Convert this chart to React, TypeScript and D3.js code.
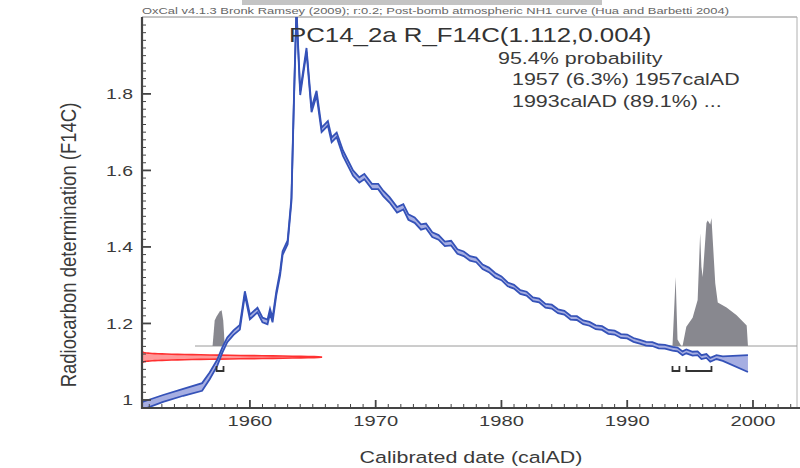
import React from 'react';
import * as d3 from 'd3';

// ---- data ----
const curveYears = [1951.4, 1953.1, 1954.7, 1956.2, 1956.8, 1957.4, 1957.8, 1958.2, 1958.7, 1959.2, 1959.6, 1960.0, 1960.6, 1961.0, 1961.4, 1961.6, 1961.8, 1962.1, 1962.4, 1962.6, 1963.0, 1963.3, 1963.5, 1963.7, 1964.0, 1964.5, 1964.9, 1965.3, 1965.7, 1966.2, 1966.5, 1966.9, 1967.4, 1967.8, 1968.2, 1968.7, 1969.1, 1969.7, 1970.2, 1970.6, 1971.1, 1971.7, 1972.2, 1972.6, 1973.1, 1973.6, 1974.0, 1974.5, 1975.0, 1975.5, 1976.0, 1976.5, 1977.0, 1977.5, 1978.0, 1978.5, 1979.0, 1979.5, 1980.0, 1980.5, 1981.0, 1981.5, 1982.0, 1982.5, 1983.0, 1983.5, 1984.0, 1984.5, 1985.0, 1985.5, 1986.0, 1986.5, 1987.0, 1987.5, 1988.0, 1988.5, 1989.0, 1989.5, 1990.0, 1990.5, 1991.0, 1991.5, 1992.0, 1992.5, 1993.0, 1993.6, 1994.0, 1994.4, 1994.7, 1995.2, 1995.6, 1995.9, 1996.3, 1996.6, 1997.1, 1997.6, 1999.6];
const curveF14C = [0.984, 1.004, 1.020, 1.034, 1.063, 1.097, 1.130, 1.157, 1.176, 1.190, 1.279, 1.217, 1.235, 1.209, 1.204, 1.232, 1.209, 1.279, 1.331, 1.384, 1.412, 1.523, 1.784, 2.02, 1.802, 1.915, 1.758, 1.802, 1.706, 1.723, 1.680, 1.693, 1.645, 1.619, 1.593, 1.575, 1.584, 1.558, 1.558, 1.540, 1.523, 1.497, 1.505, 1.478, 1.470, 1.452, 1.455, 1.432, 1.425, 1.408, 1.410, 1.388, 1.382, 1.370, 1.366, 1.348, 1.340, 1.326, 1.318, 1.302, 1.296, 1.282, 1.278, 1.263, 1.260, 1.246, 1.244, 1.232, 1.228, 1.215, 1.214, 1.203, 1.199, 1.190, 1.188, 1.178, 1.176, 1.167, 1.166, 1.157, 1.152, 1.147, 1.146, 1.140, 1.139, 1.134, 1.132, 1.122, 1.127, 1.121, 1.122, 1.112, 1.115, 1.105, 1.112, 1.108, 1.095];
const curveSigma = [0.010, 0.009, 0.009, 0.010, 0.009, 0.008, 0.007, 0.006, 0.006, 0.006, 0.005, 0.006, 0.006, 0.006, 0.006, 0.006, 0.006, 0.005, 0.005, 0.005, 0.005, 0.005, 0.005, 0.005, 0.005, 0.005, 0.006, 0.006, 0.006, 0.006, 0.006, 0.006, 0.007, 0.007, 0.007, 0.007, 0.007, 0.007, 0.007, 0.007, 0.007, 0.007, 0.007, 0.007, 0.007, 0.007, 0.006, 0.006, 0.006, 0.006, 0.006, 0.006, 0.006, 0.006, 0.006, 0.006, 0.006, 0.006, 0.005, 0.005, 0.005, 0.005, 0.005, 0.005, 0.005, 0.005, 0.005, 0.005, 0.005, 0.005, 0.005, 0.005, 0.005, 0.005, 0.005, 0.005, 0.005, 0.005, 0.005, 0.005, 0.005, 0.005, 0.005, 0.005, 0.005, 0.005, 0.005, 0.005, 0.005, 0.005, 0.005, 0.005, 0.005, 0.005, 0.005, 0.006, 0.022];

const measMean = 1.112;
const measSigma = 0.004;

const leftDistYears = [1957.03, 1957.2, 1957.35, 1957.6, 1957.75, 1957.88, 1958.0];
const leftDistDensity = [0, 0.20, 0.23, 0.27, 0.28, 0.20, 0];
const rightDistYears = [1993.6, 1993.85, 1994.0, 1994.3, 1994.4, 1994.7, 1995.2, 1995.6, 1995.8, 1995.9, 1996.0, 1996.3, 1996.4, 1996.6, 1996.7, 1996.8, 1997.0, 1997.2, 1997.9, 1998.7, 1999.5, 1999.6];
const rightDistDensity = [0, 0.54, 0.05, 0, 0, 0.15, 0.22, 0.36, 0.88, 0.62, 0.54, 0.96, 0.98, 0.95, 1.0, 0.83, 0.49, 0.34, 0.30, 0.24, 0.16, 0];

const rangeStarts = [1957.35, 1993.6, 1994.7];
const rangeEnds = [1957.9, 1994.15, 1996.7];

const xTickYears = [1960, 1970, 1980, 1990, 2000];
const xTickLabels = ['1960', '1970', '1980', '1990', '2000'];
const yTickValues = [1, 1.2, 1.4, 1.6, 1.8];
const yTickLabels = ['1', '1.2', '1.4', '1.6', '1.8'];

const captionText = 'OxCal v4.1.3 Bronk Ramsey (2009); r:0.2; Post-bomb atmospheric NH1 curve (Hua and Barbetti 2004)';
const titleText = 'PC14_2a R_F14C(1.112,0.004)';
const probLines = ['95.4% probability', '1957 (6.3%) 1957calAD', '1993calAD (89.1%) ...'];
const xTitle = 'Calibrated date (calAD)';
const yTitle = 'Radiocarbon determination (F14C)';

// ---- layout ----
const W = 800, H = 468;
const L = 142, R = 797, T = 17, B = 408;
const FONT = '"Liberation Sans", Arial, Helvetica, sans-serif';
const TXT = '#3a3a3a';

const x = d3.scaleLinear().domain([1951.42, 2003.5]).range([L, R]);
const y = d3.scaleLinear().domain([0.979, 2.001]).range([B, T]);

const distBase = 346;
const distScale = 128;
const measScale = 180;

function SText(props: any) {
  const { x: tx, y: ty, sx = 1.27, size = 15.5, anchor = 'start', fill = TXT, rotate = 0, children } = props;
  return (
    <text
      transform={`translate(${tx},${ty}) scale(${sx},1)${rotate ? ` rotate(${rotate})` : ''}`}
      fontSize={size}
      textAnchor={anchor}
      fill={fill}
      fontFamily={FONT}
    >
      {children}
    </text>
  );
}

export default function App() {
  const idx = d3.range(curveYears.length);
  const band = d3.area<number>()
    .x(i => x(curveYears[i]))
    .y0(i => y(curveF14C[i] - curveSigma[i]))
    .y1(i => y(curveF14C[i] + curveSigma[i]));
  const upper = d3.line<number>().x(i => x(curveYears[i])).y(i => y(curveF14C[i] + curveSigma[i]));
  const lower = d3.line<number>().x(i => x(curveYears[i])).y(i => y(curveF14C[i] - curveSigma[i]));

  const dist = (yrs: number[], dens: number[]) =>
    d3.area<number>().x(i => x(yrs[i])).y0(distBase).y1(i => distBase - dens[i] * distScale)(d3.range(yrs.length)) || '';

  const zs = d3.range(-3.6, 3.601, 0.1);
  const meas = d3.area<number>()
    .y(z => y(measMean + z * measSigma))
    .x0(L)
    .x1(z => L + measScale * Math.exp(-z * z / 2));

  const minorYears = d3.range(1952, 2004);
  const minorVals = d3.range(0, 51).map(k => 0.98 + k * 0.02);

  return (
    <svg width={W} height={H} style={{ position: 'fixed', left: 0, top: 0, background: '#fff' }}>
      <defs>
        <clipPath id="plot">
          <rect x={L} y={T} width={R - L} height={B - T} />
        </clipPath>
      </defs>
      <rect x={0} y={0} width={W} height={H} fill="#fff" />
      <rect x={242} y={0} width={360} height={5} fill="#c4c4c4" />

      {/* caption */}
      <text x={L} y={14} fontSize={9} fill="#666" fontFamily={FONT} textLength={587} lengthAdjust="spacingAndGlyphs">{captionText}</text>

      {/* frame */}
      <line x1={L} x2={R} y1={T} y2={T} stroke="#8a8a8a" strokeWidth={1} />
      <line x1={R} x2={R} y1={T} y2={B} stroke="#b0b0b0" strokeWidth={1} />

      {/* distribution baseline */}
      <line x1={195} x2={R} y1={distBase} y2={distBase} stroke="#9a9a9a" strokeWidth={1} />

      <g clipPath="url(#plot)">
        {/* posterior distributions */}
        <path d={dist(leftDistYears, leftDistDensity)} fill="#88888f" />
        <path d={dist(rightDistYears, rightDistDensity)} fill="#88888f" />

        {/* measurement */}
        <path d={meas(zs) || ''} fill="rgba(255,110,110,0.7)" stroke="#ff3030" strokeWidth={1.6} />

        {/* calibration curve */}
        <path d={band(idx) || ''} fill="#a6aee2" />
        <path d={upper(idx) || ''} fill="none" stroke="#3552b8" strokeWidth={1.8} />
        <path d={lower(idx) || ''} fill="none" stroke="#3552b8" strokeWidth={1.8} />
      </g>

      {/* ranges */}
      {rangeStarts.map((s, i) => (
        <path key={i}
          d={`M${x(s)},366V371H${x(rangeEnds[i])}V366`}
          fill="none" stroke="#333" strokeWidth={1.8} />
      ))}

      {/* axes */}
      <line x1={L} x2={L} y1={T} y2={B + 1} stroke="#444" strokeWidth={2.2} />
      <line x1={L - 1} x2={W} y1={B} y2={B} stroke="#444" strokeWidth={2.2} />
      {minorYears.map(v => (
        <line key={'mx' + v} x1={x(v)} x2={x(v)} y1={B} y2={B - (v % 10 === 0 ? 8 : 4)} stroke="#444" strokeWidth={v % 10 === 0 ? 1.8 : 1} />
      ))}
      {minorVals.map((v, k) => (
        <line key={'my' + k} x1={L} x2={L + (k % 10 === 1 ? 9 : 4)} y1={y(v)} y2={y(v)} stroke="#444" strokeWidth={k % 10 === 1 ? 1.8 : 1} />
      ))}

      {xTickYears.map((v, i) => (
        <SText key={'xl' + v} x={x(v)} y={426} anchor="middle" sx={1.3}>{xTickLabels[i]}</SText>
      ))}
      {yTickValues.map((v, i) => (
        <SText key={'yl' + v} x={133} y={y(v) + 5.5} anchor="end" sx={1.25}>{yTickLabels[i]}</SText>
      ))}

      <SText x={471} y={463} anchor="middle" size={16.5} sx={1.3}>{xTitle}</SText>
      <SText x={76} y={245} anchor="middle" size={18.5} sx={1.15} rotate={-90}>{yTitle}</SText>

      {/* title and probabilities */}
      <SText x={289} y={42} size={21} sx={1.23} fill="#333">{titleText}</SText>
      <SText x={498} y={64} size={16.5} sx={1.3}>{probLines[0]}</SText>
      <SText x={512} y={85} size={16.5} sx={1.3}>{probLines[1]}</SText>
      <SText x={512} y={107} size={16.5} sx={1.3}>{probLines[2]}</SText>
    </svg>
  );
}
